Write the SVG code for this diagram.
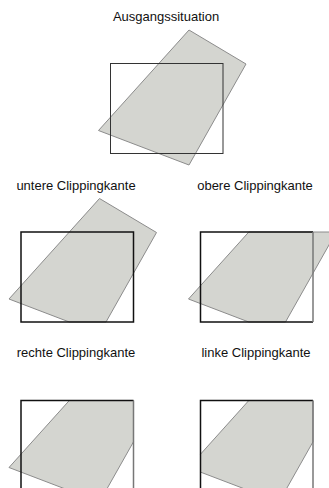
<svg xmlns="http://www.w3.org/2000/svg" width="329" height="488" viewBox="0 0 329 488">
<style>
.bg{fill:#ffffff}
.lbl{font-family:"Liberation Sans",Arial,Helvetica,sans-serif;font-size:13px;fill:#111;text-anchor:middle}
.poly{fill:#d4d5d0;stroke:#8c8c8c;stroke-width:1;stroke-linejoin:miter}
.win0{fill:none;stroke:#333;stroke-width:1}
.win{fill:none;stroke:#111;stroke-width:1.5}
.edge{fill:none;stroke:#777;stroke-width:1.5}
</style>
<rect class="bg" x="0" y="0" width="329" height="488"/>
<g id="ausgangssituation">
  <text class="lbl" x="166" y="21">Ausgangssituation</text>
  <polygon class="poly" points="189,30 246,64 189,165 98.5,130.5"/>
  <rect class="win0" x="110.5" y="63.5" width="112.5" height="90"/>
</g>
<g id="untere">
  <text class="lbl" x="76" y="190">untere Clippingkante</text>
  <g transform="translate(-89.5,168.5)">
    <polygon class="poly" points="189,30 246,64 195.5,153.5 158.8,153.5 98.5,130.5"/>
    <rect class="win" x="110.5" y="63.5" width="112.5" height="90"/>
  </g>
</g>
<g id="obere">
  <text class="lbl" x="255" y="190">obere Clippingkante</text>
  <g transform="translate(90,168.5)">
    <polygon class="poly" points="245.2,63.5 246,64 195.5,153.5 158.8,153.5 98.5,130.5 158.8,63.5"/>
    <path class="win" d="M223,63.5 H110.5 V153.5 H223"/>
    <path class="edge" d="M223,63.5 V153.5"/>
  </g>
</g>
<g id="rechte">
  <text class="lbl" x="76" y="357">rechte Clippingkante</text>
  <g transform="translate(-89.5,337)">
    <polygon class="poly" points="223,63.5 223,104.8 195.5,153.5 158.8,153.5 98.5,130.5 158.8,63.5"/>
    <path class="win" d="M223,63.5 H110.5 V153.5 H223"/>
    <path class="edge" d="M223,63.5 V153.5"/>
  </g>
</g>
<g id="linke">
  <text class="lbl" x="256" y="357">linke Clippingkante</text>
  <g transform="translate(90,337)">
    <polygon class="poly" points="223,63.5 223,104.8 195.5,153.5 158.8,153.5 110.5,135.1 110.5,117.2 158.8,63.5"/>
    <path class="win" d="M223,63.5 H110.5 V153.5 H223"/>
    <path class="edge" d="M223,63.5 V153.5"/>
  </g>
</g>
<g id="connectors"></g>
</svg>
